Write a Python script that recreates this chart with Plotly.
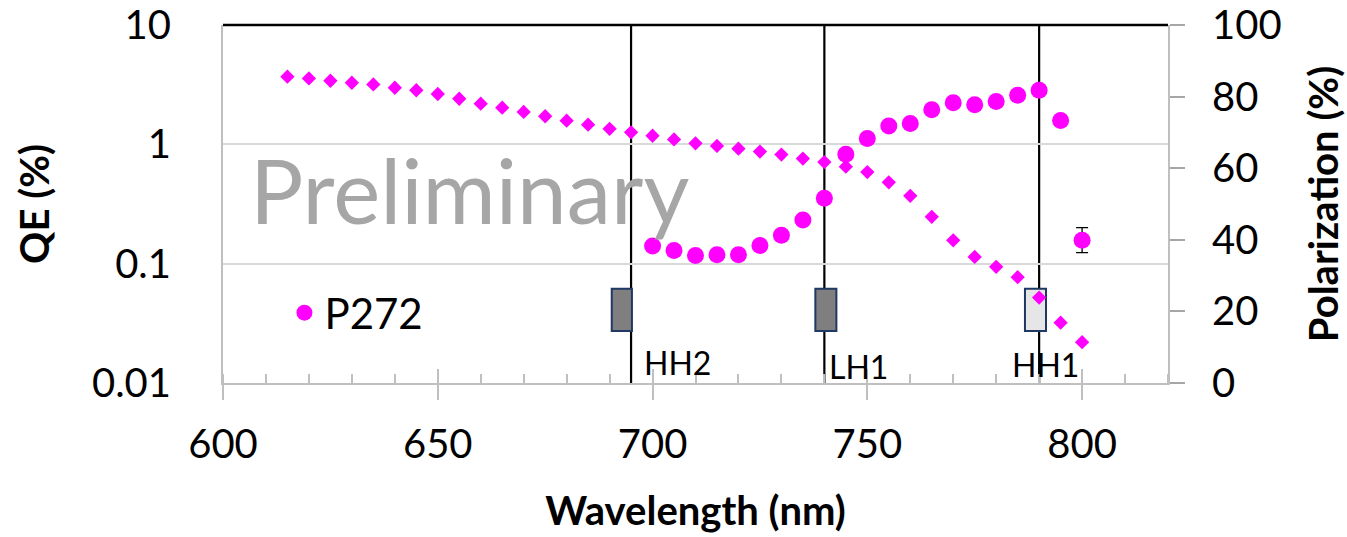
import plotly.graph_objects as go

# ---- data ----
wl_qe = list(range(615, 805, 5))
qe = [3.69, 3.57, 3.41, 3.28, 3.18, 2.98, 2.84, 2.64, 2.41, 2.19, 2.03, 1.87,
      1.72, 1.58, 1.46, 1.35, 1.26, 1.18, 1.10, 1.02, 0.97, 0.92, 0.87, 0.82,
      0.76, 0.71, 0.65, 0.586, 0.48, 0.37, 0.247, 0.157, 0.114, 0.094, 0.077,
      0.052, 0.032, 0.022]
wl_pol = list(range(700, 805, 5))
pol = [38.3, 37.0, 35.6, 35.8, 35.8, 38.4, 41.3, 45.5, 51.6, 63.9, 68.3, 71.8,
       72.5, 76.3, 78.3, 77.7, 78.6, 80.4, 81.8, 73.3, 39.9]
pol_err = [None] * 20 + [3.5]
transition_names = ["HH2", "LH1", "HH1"]
transition_wl = [695, 740, 790]
band_lo = [690.5, 737.9, 786.7]
band_hi = [695.2, 742.8, 791.6]
band_fill = ["#7F7F7F", "#7F7F7F", "#E7E6E6"]
series_name = "P272"
qe_ticks = [0.01, 0.1, 1, 10]
qe_ticktext = ["0.01", "0.1", "1", "10"]

FONT = "Lato"
MAG = "#FF00FF"

fig = go.Figure()
fig.add_trace(go.Scatter(
    x=wl_qe, y=qe, mode="markers", name=series_name + " QE", showlegend=False,
    marker=dict(symbol="diamond", size=11, color=MAG, line=dict(width=0)),
    yaxis="y"))
fig.add_trace(go.Scatter(
    x=wl_pol, y=pol, mode="markers", name=series_name,
    marker=dict(symbol="circle", size=17, color=MAG, line=dict(width=0)),
    error_y=dict(type="data", array=[e if e is not None else 0 for e in pol_err],
                 color="black", thickness=1.3, width=6, visible=True),
    yaxis="y2"))

shapes = []
for i, w in enumerate(transition_wl):
    shapes.append(dict(type="line", xref="x", yref="paper", x0=w, x1=w, y0=0, y1=1,
                       line=dict(color="black", width=2.2), layer="between"))
    shapes.append(dict(type="rect", xref="x", yref="paper", x0=band_lo[i], x1=band_hi[i],
                       y0=0.145, y1=0.263, fillcolor=band_fill[i],
                       line=dict(color="#203864", width=2), layer="between"))
shapes.append(dict(type="line", xref="paper", yref="paper", x0=0, x1=1, y0=1, y1=1,
                   line=dict(color="black", width=2.5), layer="above"))

label_offset = [2.6, 0.6, -6.9]
label_y = [0.057, 0.047, 0.052]
annotations = []
for i, n in enumerate(transition_names):
    annotations.append(dict(text=n, x=transition_wl[i] + label_offset[i], y=label_y[i],
                            xref="x", yref="paper", xanchor="left", yanchor="middle",
                            showarrow=False, font=dict(family=FONT, size=32, color="black")))
annotations.append(dict(text="Preliminary", x=0.026, y=0.54, xref="paper", yref="paper",
                        xanchor="left", yanchor="middle", showarrow=False,
                        font=dict(family=FONT, size=89, color="#A6A6A6")))

fig.update_layout(
    template="none",
    width=1347, height=537,
    margin=dict(l=223, r=179, t=25, b=154, autoexpand=False),
    paper_bgcolor="white", plot_bgcolor="white",
    font=dict(family=FONT, size=40, color="black"),
    shapes=shapes, annotations=annotations,
    showlegend=True,
    legend=dict(x=0.065, y=0.196, xanchor="left", yanchor="middle",
                bgcolor="rgba(0,0,0,0)", font=dict(family=FONT, size=42, color="black"),
                itemsizing="trace"),
    xaxis=dict(range=[600, 820], tick0=600, dtick=50, ticks="outside", ticklen=15,
               tickcolor="#BFBFBF", tickwidth=1.5, showline=True, linecolor="#BFBFBF",
               linewidth=2, showgrid=False, zeroline=False, automargin=False,
               minor=dict(dtick=10, ticks="inside", ticklen=9, tickcolor="#BFBFBF", tickwidth=1.5),
               ticklabelstandoff=10,
               title=dict(text="<b>Wavelength (nm)</b>", font=dict(family=FONT, size=40), standoff=31)),
    xaxis2=dict(overlaying="x", matches="x", range=[600, 820], tick0=600, dtick=50,
                ticks="inside", ticklen=14, tickcolor="#BFBFBF", tickwidth=1.5,
                showticklabels=False, showgrid=False, showline=False, zeroline=False,
                anchor="y", side="bottom", automargin=False),
    yaxis=dict(type="log", range=[-2, 1], tickvals=qe_ticks, ticktext=qe_ticktext,
               ticks="", showline=True, linecolor="#BFBFBF", linewidth=2,
               showgrid=True, gridcolor="#D9D9D9", gridwidth=2, zeroline=False,
               ticklabelstandoff=42, automargin=False,
               title=dict(text="<b>QE (%)</b>", font=dict(family=FONT, size=40), standoff=30)),
    yaxis2=dict(overlaying="y", side="right", range=[0, 100], dtick=20,
                ticks="outside", ticklen=15, tickcolor="#A6A6A6", tickwidth=1.5,
                showline=True, linecolor="#BFBFBF", linewidth=2, showgrid=False,
                zeroline=False, ticklabelstandoff=19, automargin=False,
                title=dict(text="<b>Polarization (%)</b>", font=dict(family=FONT, size=40), standoff=30)),
)
# empty trace to activate the overlay x axis that draws the inside part of major ticks
fig.add_trace(go.Scatter(x=[None], y=[None], xaxis="x2", yaxis="y", showlegend=False,
                         hoverinfo="skip"))

fig.write_html("out.html")
